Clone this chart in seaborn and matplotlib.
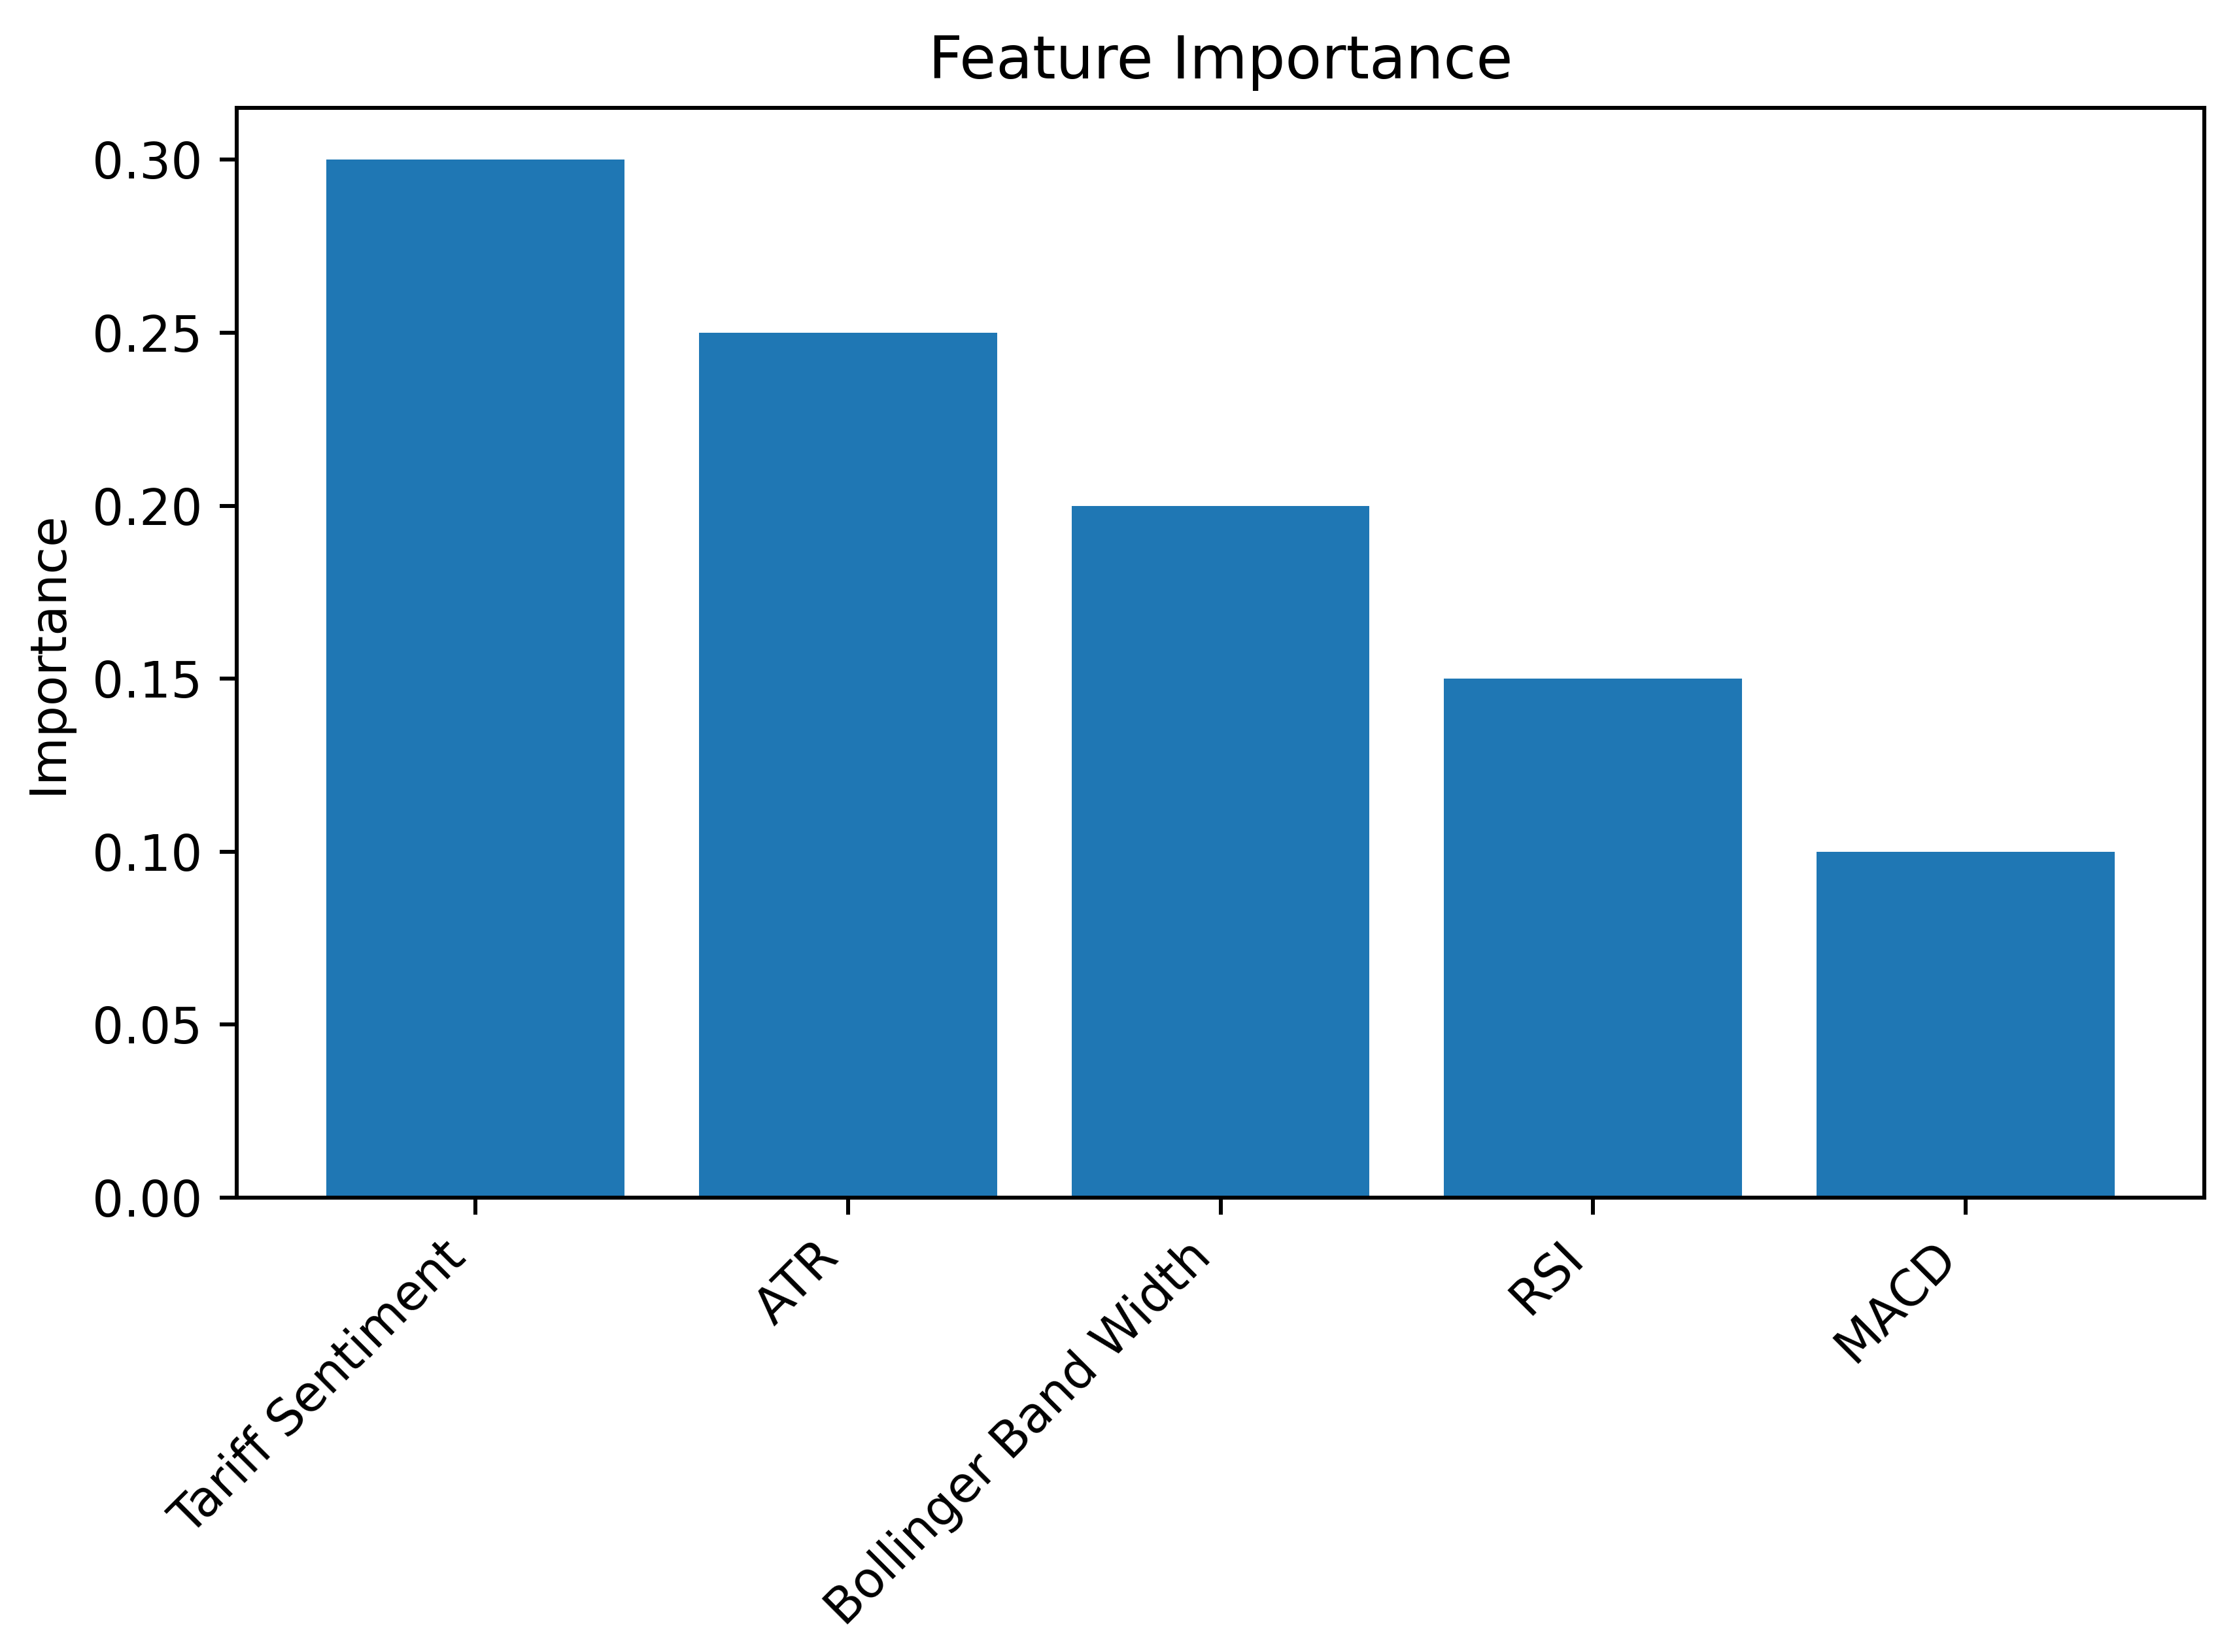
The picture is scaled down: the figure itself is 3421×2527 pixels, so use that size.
import matplotlib
matplotlib.use("Agg")
import matplotlib.pyplot as plt
import seaborn as sns
import pandas as pd

features = ["Tariff Sentiment", "ATR", "Bollinger Band Width", "RSI", "MACD"]
importance = [0.30, 0.25, 0.20, 0.15, 0.10]

df = pd.DataFrame({"Feature": features, "Importance": importance})

DPI = 545
fig = plt.figure(figsize=(3422 / DPI, 2527 / DPI), dpi=DPI)
ax = fig.add_axes([362 / 3422, 1 - 1832 / 2527, (3371 - 362) / 3422, (1832 - 165) / 2527])

sns.barplot(data=df, x="Feature", y="Importance", color="#1f77b4", saturation=1,
            width=0.8, linewidth=0, ax=ax)

ax.set_xlim(-0.64, 4.64)
ax.set_ylim(0, 0.315)
ax.set_title("Feature Importance")
ax.set_xlabel("")
ax.set_ylabel("Importance")
plt.setp(ax.get_xticklabels(), rotation=45, ha="right")

fig.savefig("out.png", dpi=DPI)
